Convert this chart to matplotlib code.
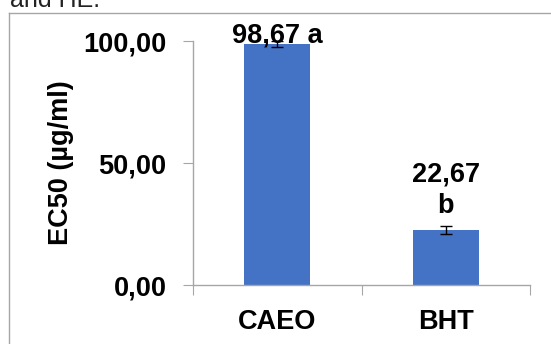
import matplotlib
matplotlib.use("Agg")
import matplotlib.pyplot as plt
from matplotlib.ticker import FuncFormatter
from matplotlib.lines import Line2D

# EC50 values per sample, with standard deviation and significance letters
samples = ["CAEO", "BHT"]
ec50 = [98.67, 22.67]
ec50_sd = [1.2, 1.6]
letters = ["a", "b"]
y_ticks = [0, 50, 100]

plt.rcParams["font.family"] = ["Liberation Sans", "DejaVu Sans"]
plt.rcParams["font.weight"] = "bold"

W, H = 551, 344
fig = plt.figure(figsize=(W / 100, H / 100), dpi=100)

# caption text of the page, partly cut by the top edge
fig.text(10 / W, 1 - 7 / H, "and HE.", fontsize=18, fontweight="normal",
         color="#222222", ha="left", va="baseline")

# chart area frame (top and left edges)
frame_col = "#a6a6a6"
fig.add_artist(Line2D([9 / W, 1], [1 - 12.5 / H, 1 - 12.5 / H],
                      transform=fig.transFigure, color=frame_col, lw=1))
fig.add_artist(Line2D([9 / W, 9 / W], [0, 1 - 12.5 / H],
                      transform=fig.transFigure, color=frame_col, lw=1))

ax = fig.add_axes([193 / W, 1 - 285 / H, (530 - 193) / W, (285 - 41) / H])

x = list(range(len(samples)))
ax.bar(x, ec50, width=0.39, color="#4472C4", zorder=2)
ax.errorbar(x, ec50, yerr=ec50_sd, fmt="none", ecolor="black",
            elinewidth=1, capsize=4.5, capthick=1, zorder=3)

# value labels with significance letters
ax.annotate(f"{ec50[0]:.2f}".replace(".", ",") + " " + letters[0],
            xy=(x[0], ec50[0] + ec50_sd[0]), xytext=(0, -1),
            textcoords="offset points", ha="center", va="baseline",
            fontsize=19.5, annotation_clip=False)
ax.annotate(f"{ec50[1]:.2f}".replace(".", ",") + "\n" + letters[1],
            xy=(x[1], ec50[1] + ec50_sd[1]), xytext=(0, 9.5),
            textcoords="offset points", ha="center", va="baseline",
            fontsize=19.5, linespacing=1.25, annotation_clip=False)

ax.set_xlim(-0.5, 1.5)
ax.set_ylim(0, 100)
ax.set_yticks(y_ticks)
ax.yaxis.set_major_formatter(FuncFormatter(lambda v, p: f"{v:.2f}".replace(".", ",")))
ax.set_xticks([-0.5, 0.5, 1.5])
ax.set_xticklabels([])
ax.set_xticks(x, minor=True)
ax.set_xticklabels(samples, minor=True)
ax.tick_params(axis="x", which="minor", length=0, pad=17, labelsize=19.5)
ax.tick_params(axis="x", which="major", length=7, color=frame_col, direction="out")
ax.tick_params(axis="y", length=7, color=frame_col, pad=12, labelsize=19.5)

for side in ["top", "right"]:
    ax.spines[side].set_visible(False)
for side in ["left", "bottom"]:
    ax.spines[side].set_color(frame_col)
    ax.spines[side].set_linewidth(1)

ax.set_ylabel("EC50 (µg/ml)", fontsize=19.5, fontweight="bold")
ax.yaxis.set_label_coords(-(193 - 74) / (530 - 193), 0.5)

fig.savefig("out.png", dpi=100)
